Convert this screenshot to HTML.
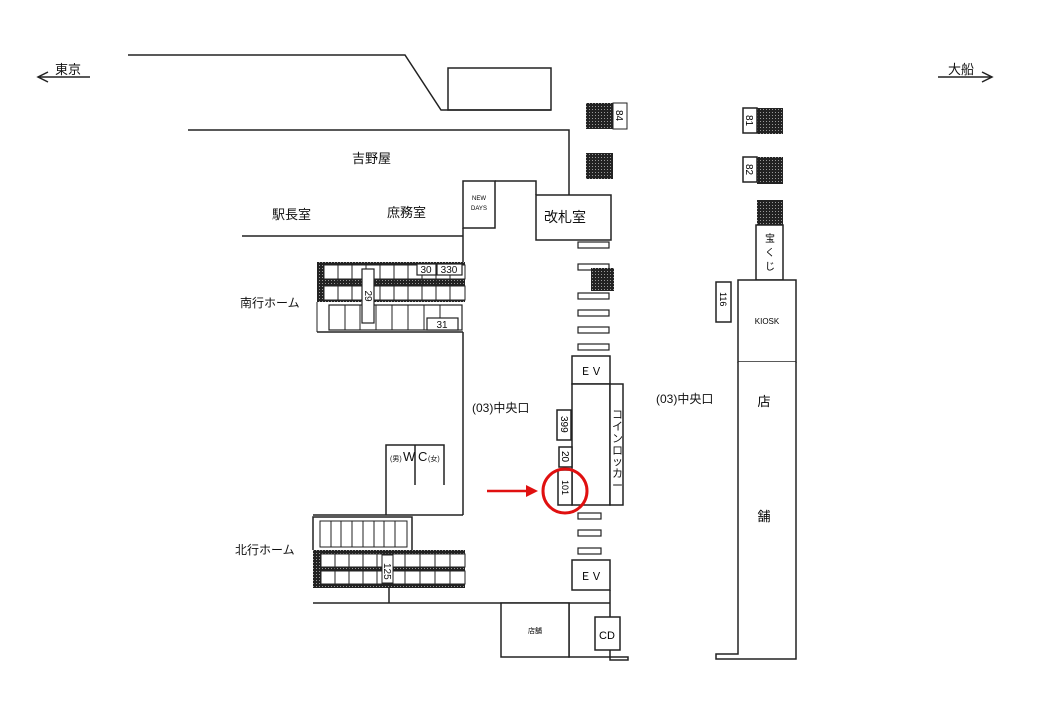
<!DOCTYPE html>
<html><head><meta charset="utf-8"><style>
html,body{margin:0;padding:0;background:#fff;}
svg{display:block;font-family:"Liberation Sans","Noto Sans CJK JP",sans-serif;}
</style></head><body>
<svg width="1040" height="720" viewBox="0 0 1040 720">
<defs>
<pattern id="dot" width="3" height="3" patternUnits="userSpaceOnUse">
<rect width="3" height="3" fill="#222"/><rect x="1" y="1" width="1" height="1" fill="#999"/>
</pattern>
</defs>
<g fill="none" stroke="#222" stroke-width="1.5">
<!-- top arrows -->
<line x1="38" y1="77" x2="90" y2="77"/><polyline points="48,72 38,77 48,82"/>
<line x1="938" y1="77" x2="992" y2="77"/><polyline points="982,72 992,77 982,82"/>
<!-- top outlines -->
<polyline points="128,55 405,55 441,110 551,110"/>
<rect x="448" y="68" width="103" height="42"/>
<polyline points="188,130 569,130 569,195"/>
<line x1="242" y1="236" x2="463" y2="236"/>
<rect x="463" y="181" width="32" height="47"/>
<polyline points="495,181 536,181 536,195"/>
<rect x="536" y="195" width="75" height="45" fill="#fff"/>
<line x1="463" y1="228" x2="463" y2="262"/>
<line x1="463" y1="332" x2="463" y2="515"/>
</g>
<!-- south platform -->
<rect x="317" y="262" width="148" height="40" fill="url(#dot)"/>
<g fill="#fff" stroke="#222" stroke-width="1">
<rect x="324" y="265" width="141" height="14"/>
<rect x="324" y="286" width="141" height="14"/>
</g>
<g stroke="#222" stroke-width="1">
<line x1="338" y1="265" x2="338" y2="300"/><line x1="352" y1="265" x2="352" y2="300"/>
<line x1="366" y1="265" x2="366" y2="300"/><line x1="380" y1="265" x2="380" y2="300"/>
<line x1="394" y1="265" x2="394" y2="300"/><line x1="408" y1="265" x2="408" y2="300"/>
<line x1="422" y1="265" x2="422" y2="300"/><line x1="436" y1="265" x2="436" y2="300"/>
<line x1="450" y1="265" x2="450" y2="300"/>
</g>
<g fill="#fff" stroke="#222" stroke-width="1.2">
<rect x="329" y="305" width="133" height="25"/>
</g>
<g stroke="#222" stroke-width="1">
<line x1="345" y1="305" x2="345" y2="330"/><line x1="360" y1="305" x2="360" y2="330"/>
<line x1="376" y1="305" x2="376" y2="330"/><line x1="392" y1="305" x2="392" y2="330"/>
<line x1="408" y1="305" x2="408" y2="330"/><line x1="424" y1="305" x2="424" y2="330"/>
<line x1="440" y1="305" x2="440" y2="330"/>
<line x1="317" y1="332" x2="463" y2="332" stroke-width="1.5"/>
<line x1="317" y1="302" x2="317" y2="332"/>
</g>
<g fill="#fff" stroke="#222" stroke-width="1.2">
<rect x="362" y="269" width="12" height="54"/>
<rect x="417" y="264" width="19" height="11"/>
<rect x="437" y="264" width="25" height="11"/>
<rect x="427" y="318" width="31" height="12"/>
</g>
<g font-size="10" fill="#111" text-anchor="middle">
<text x="426" y="273">30</text><text x="449" y="273">330</text><text x="442" y="328">31</text>
<text transform="translate(365,296) rotate(90)" font-size="10">29</text>
</g>
<!-- WC & north platform -->
<g fill="none" stroke="#222" stroke-width="1.5">
<polyline points="386,515 386,445 444,445 444,485"/>
<line x1="415" y1="445" x2="415" y2="485"/>
<polyline points="313,515 463,515"/>
<polyline points="313,550 313,517 412,517 412,550"/>
<line x1="313" y1="603" x2="610" y2="603"/>
<line x1="389" y1="588" x2="389" y2="603"/>
</g>
<g fill="none" stroke="#222" stroke-width="1">
<rect x="320" y="521" width="87" height="26"/>
<line x1="331" y1="521" x2="331" y2="547"/><line x1="341" y1="521" x2="341" y2="547"/>
<line x1="352" y1="521" x2="352" y2="547"/><line x1="363" y1="521" x2="363" y2="547"/>
<line x1="374" y1="521" x2="374" y2="547"/><line x1="384" y1="521" x2="384" y2="547"/>
<line x1="395" y1="521" x2="395" y2="547"/>
</g>
<rect x="313" y="550" width="152" height="38" fill="url(#dot)"/>
<g fill="#fff" stroke="#222" stroke-width="1">
<rect x="321" y="554" width="144" height="13"/>
<rect x="321" y="571" width="144" height="13"/>
</g>
<g stroke="#222" stroke-width="1">
<line x1="335" y1="554" x2="335" y2="584"/><line x1="349" y1="554" x2="349" y2="584"/>
<line x1="363" y1="554" x2="363" y2="584"/><line x1="377" y1="554" x2="377" y2="584"/>
<line x1="405" y1="554" x2="405" y2="584"/><line x1="420" y1="554" x2="420" y2="584"/>
<line x1="435" y1="554" x2="435" y2="584"/><line x1="450" y1="554" x2="450" y2="584"/>
</g>
<rect x="382" y="555" width="11" height="28" fill="#fff" stroke="#222"/>
<text transform="translate(384,563) rotate(90)" font-size="10" fill="#111">125</text>
<text x="390" y="461" font-size="7" fill="#111">(男)</text>
<text x="403" y="461" font-size="13" fill="#111">W</text>
<text x="418" y="461" font-size="13" fill="#111">C</text>
<text x="428" y="461" font-size="7" fill="#111">(女)</text>
<!-- central column -->
<g fill="#fff" stroke="#222" stroke-width="1.2">
<rect x="578" y="242" width="31" height="6"/><rect x="578" y="264" width="31" height="6"/>
<rect x="578" y="293" width="31" height="6"/><rect x="578" y="310" width="31" height="6"/>
<rect x="578" y="327" width="31" height="6"/><rect x="578" y="344" width="31" height="6"/>
<rect x="578" y="513" width="23" height="6"/><rect x="578" y="530" width="23" height="6"/>
<rect x="578" y="548" width="23" height="6"/>
</g>
<rect x="586" y="103" width="27" height="26" fill="url(#dot)"/>
<rect x="613" y="103" width="14" height="26" fill="#fff" stroke="#222"/>
<text transform="translate(616,110) rotate(90)" font-size="10">84</text>
<rect x="586" y="153" width="27" height="26" fill="url(#dot)"/>
<rect x="591" y="268" width="23" height="23" fill="url(#dot)"/>
<g fill="#fff" stroke="#222" stroke-width="1.5">
<rect x="572" y="356" width="38" height="28"/>
<rect x="572" y="384" width="38" height="121"/>
<rect x="610" y="384" width="13" height="121"/>
<rect x="572" y="560" width="38" height="30"/>
</g>
<polyline points="610,590 610,603" stroke="#222" stroke-width="1.5"/>
<polyline points="569,603 569,657 628,657 628,660 610,660 610,603" fill="none" stroke="#222" stroke-width="1.5"/>
<rect x="501" y="603" width="68" height="54" fill="#fff" stroke="#222" stroke-width="1.5"/>
<rect x="595" y="617" width="25" height="33" fill="#fff" stroke="#222" stroke-width="1.5"/>
<text x="607" y="639" font-size="11" text-anchor="middle">CD</text>
<text x="535" y="633" font-size="7" text-anchor="middle">店舗</text>
<g fill="#fff" stroke="#222" stroke-width="1.5">
<rect x="557" y="410" width="14" height="30"/>
<rect x="559" y="447" width="13" height="20"/>
<rect x="558" y="470" width="14" height="35"/>
</g>
<text transform="translate(561,416) rotate(90)" font-size="10">399</text>
<text transform="translate(562,451) rotate(90)" font-size="10">20</text>
<text transform="translate(562,480) rotate(90)" font-size="9">101</text>
<circle cx="565" cy="491" r="22" fill="none" stroke="#e01010" stroke-width="3"/>
<line x1="487" y1="491" x2="530" y2="491" stroke="#e01010" stroke-width="2.5"/>
<polygon points="538,491 526,485 526,497" fill="#e01010"/>
<text x="591" y="375" font-size="11" text-anchor="middle">ＥＶ</text>
<text x="591" y="580" font-size="11" text-anchor="middle">ＥＶ</text>
<text font-size="11" fill="#111"><tspan x="612" y="418">コ</tspan><tspan x="612" y="430">イ</tspan><tspan x="612" y="442">ン</tspan><tspan x="612" y="454">ロ</tspan><tspan x="612" y="465">ッ</tspan><tspan x="612" y="477">カ</tspan><tspan x="612" y="489">ー</tspan></text>
<!-- right -->
<rect x="757" y="108" width="26" height="26" fill="url(#dot)"/>
<rect x="743" y="108" width="14" height="25" fill="#fff" stroke="#222" stroke-width="1.5"/>
<text transform="translate(746,115) rotate(90)" font-size="10">81</text>
<rect x="757" y="157" width="26" height="27" fill="url(#dot)"/>
<rect x="743" y="157" width="14" height="25" fill="#fff" stroke="#222" stroke-width="1.5"/>
<text transform="translate(746,164) rotate(90)" font-size="10">82</text>
<rect x="757" y="200" width="26" height="25" fill="url(#dot)"/>
<g fill="#fff" stroke="#222" stroke-width="1.5">
<rect x="756" y="225" width="27" height="55"/>
<rect x="716" y="282" width="15" height="40"/>
<rect x="738" y="280" width="58" height="82"/>
<polyline points="738,362 738,654 716,654 716,659 796,659 796,362" />
</g>
<text transform="translate(720,292) rotate(90)" font-size="9">116</text>
<text font-size="10"><tspan x="765" y="242">宝</tspan><tspan x="765" y="256">く</tspan><tspan x="765" y="270">じ</tspan></text>
<text x="767" y="324" font-size="8" text-anchor="middle">KIOSK</text>
<text x="764" y="406" font-size="13" text-anchor="middle">店</text>
<text x="764" y="521" font-size="13" text-anchor="middle">舗</text>
<!-- labels -->
<g font-size="13" fill="#111">
<text x="55" y="74">東京</text>
<text x="948" y="74">大船</text>
<text x="352" y="163">吉野屋</text>
<text x="272" y="219">駅長室</text>
<text x="387" y="217">庶務室</text>
<text x="544" y="222" font-size="14">改札室</text>
<text x="240" y="307" font-size="12">南行ホーム</text>
<text x="235" y="554" font-size="12">北行ホーム</text>
<text x="472" y="412" font-size="12">(03)中央口</text>
<text x="656" y="403" font-size="12">(03)中央口</text>
</g>
<text x="479" y="200" font-size="6" text-anchor="middle">NEW</text>
<text x="479" y="210" font-size="6" text-anchor="middle">DAYS</text>
</svg>
</body></html>
